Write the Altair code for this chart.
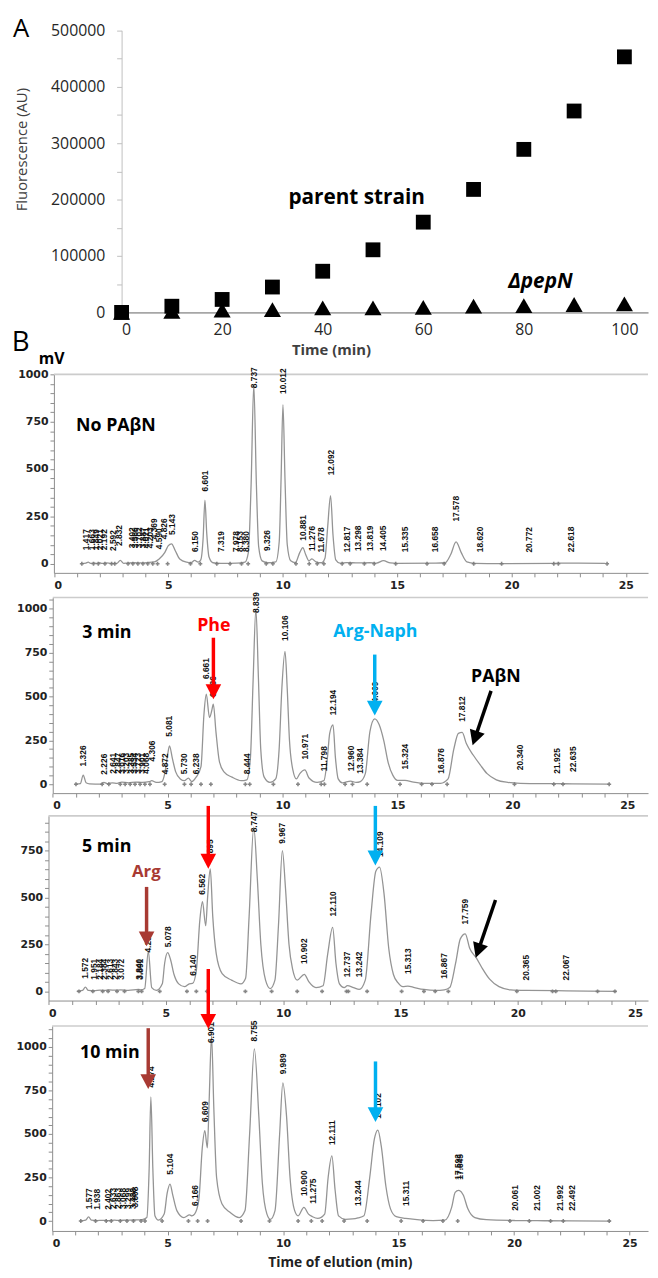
import altair as alt
import pandas as pd

# ------------------------------------------------------------------ data
# Panel A
a_time = [0, 10, 20, 30, 40, 50, 60, 70, 80, 90, 100]
a_parent = [0, 11000, 23000, 45000, 73000, 111000, 160000, 218000, 289000, 357000, 453000]
a_pepn = [0, 2000, 4000, 5000, 8000, 8000, 9000, 11000, 12000, 14000, 15000]
a_x_ticks = [0, 20, 40, 60, 80, 100]

# Panel B chromatogram traces (time min, mV)
b1_trace = [(1.2,0),(1.4,3),(1.5,8),(1.6,2),(1.75,4),(1.85,2),(2.0,5),(2.1,2),(2.3,4),(2.5,2),
            (2.75,2),(2.9,18),(3.05,2),(3.2,3),(3.5,5),(3.8,4),(4.1,6),(4.4,10),(4.6,25),(4.85,60),
            (5.0,95),(5.143,105),(5.3,70),(5.5,25),(5.8,8),(6.0,5),(6.15,18),(6.3,8),(6.42,20),(6.52,130),
            (6.601,335),(6.68,160),(6.78,35),(6.95,5),(7.3,2),(8.0,3),(8.35,8),(8.5,60),(8.62,420),(8.737,945),
            (8.85,420),(8.95,90),(9.1,15),(9.35,5),(9.7,10),(9.85,120),(9.93,450),(10.012,840),(10.1,450),(10.2,100),
            (10.35,15),(10.55,5),(10.75,60),(10.881,85),(11.0,50),(11.15,15),(11.276,25),(11.45,10),(11.7,5),(11.85,30),
            (11.97,200),(12.092,360),(12.2,150),(12.32,20),(12.5,3),(12.8,6),(13.3,4),(13.8,5),(14.1,3),(14.405,16),
            (14.7,4),(15.0,2),(16.7,3),(17.1,5),(17.35,50),(17.578,115),(17.8,60),(18.05,10),(18.4,2),(19.5,0),
            (21.9,2),(22.2,3),(24.1,2)]
b2_trace = [(1.0,0),(1.2,3),(1.326,52),(1.45,8),(1.6,2),(2.1,0),(2.226,10),(2.4,3),(2.6,8),(2.8,5),
            (3.0,12),(3.3,8),(3.6,12),(3.9,10),(4.2,14),(4.306,20),(4.5,10),(4.75,15),(4.872,60),(5.0,170),
            (5.081,218),(5.2,150),(5.35,70),(5.55,30),(5.73,20),(5.9,35),(6.05,15),(6.238,40),(6.45,100),(6.58,400),
            (6.68,513),(6.82,380),(6.92,420),(6.986,457),(7.1,300),(7.25,130),(7.45,70),(7.8,40),(8.2,20),(8.444,25),
            (8.6,150),(8.72,600),(8.839,1000),(8.95,600),(9.05,200),(9.2,40),(9.45,10),(9.7,30),(9.85,200),(9.97,550),
            (10.106,757),(10.2,550),(10.3,250),(10.45,80),(10.6,30),(10.75,60),(10.971,81),(11.15,35),(11.5,10),(11.798,20),
            (11.95,150),(12.05,290),(12.194,338),(12.3,150),(12.42,30),(12.6,8),(12.96,18),(13.2,10),(13.384,15),(13.6,60),
            (13.8,300),(14.009,372),(14.2,340),(14.4,250),(14.6,120),(14.8,50),(15.0,22),(15.324,22),(15.7,12),(16.2,5),
            (16.876,5),(17.2,30),(17.45,200),(17.65,290),(17.812,295),(18.0,230),(18.3,165),(18.6,110),(18.9,60),(19.3,25),
            (19.8,10),(20.34,5),(21.9,3),(22.6,2),(24.2,0)]
b3_trace = [(1.2,0),(1.45,5),(1.572,22),(1.7,5),(1.951,4),(2.2,6),(2.384,5),(2.6,8),(2.843,6),(3.072,8),
            (3.4,5),(3.84,10),(3.95,8),(4.1,15),(4.254,214),(4.4,20),(4.6,5),(4.85,40),(4.95,150),(5.078,206),
            (5.2,170),(5.35,90),(5.55,40),(5.8,25),(6.0,40),(6.14,42),(6.3,110),(6.45,380),(6.562,478),(6.7,350),
            (6.78,500),(6.895,653),(7.0,400),(7.15,200),(7.4,95),(7.8,60),(8.2,40),(8.4,70),(8.55,400),(8.747,876),
            (8.9,600),(9.05,250),(9.25,60),(9.45,15),(9.65,60),(9.8,350),(9.967,750),(10.1,550),(10.25,250),(10.4,120),
            (10.6,60),(10.902,91),(11.1,50),(11.4,20),(11.7,30),(11.9,200),(12.11,341),(12.25,150),(12.4,40),(12.6,20),
            (12.737,30),(13.0,20),(13.242,10),(13.5,60),(13.75,420),(13.95,640),(14.109,662),(14.3,520),(14.5,230),(14.7,90),
            (14.9,45),(15.1,25),(15.313,28),(15.6,20),(16.0,10),(16.5,5),(16.867,8),(17.1,20),(17.35,150),(17.55,280),
            (17.759,307),(17.95,230),(18.25,175),(18.5,120),(18.8,65),(19.2,25),(19.7,8),(20.365,5),(22.067,3),(24.2,0)]
b4_trace = [(1.2,0),(1.45,5),(1.577,24),(1.7,5),(1.938,3),(2.2,4),(2.402,3),(2.7,5),(2.9,4),(3.2,5),
            (3.6,6),(3.9,8),(4.1,20),(4.2,300),(4.274,713),(4.36,300),(4.45,30),(4.6,5),(4.85,40),(4.98,160),
            (5.104,212),(5.22,150),(5.4,60),(5.7,20),(5.95,35),(6.05,30),(6.166,40),(6.35,120),(6.5,420),(6.609,520),
            (6.72,420),(6.8,700),(6.901,1064),(7.0,650),(7.12,250),(7.35,100),(7.7,50),(8.1,20),(8.35,60),(8.55,500),
            (8.755,989),(8.95,600),(9.1,220),(9.3,40),(9.45,10),(9.65,60),(9.85,500),(9.989,794),(10.15,600),(10.3,250),
            (10.5,60),(10.65,30),(10.9,79),(11.1,40),(11.275,25),(11.5,15),(11.8,40),(11.95,250),(12.111,374),(12.25,180),
            (12.4,30),(12.7,10),(13.0,12),(13.244,18),(13.5,30),(13.75,250),(13.95,470),(14.102,523),(14.25,430),(14.45,200),
            (14.65,70),(14.9,25),(15.311,15),(15.8,8),(16.5,3),(17.0,5),(17.3,80),(17.45,165),(17.593,176),(17.645,175),
            (17.8,150),(18.0,70),(18.3,20),(18.8,8),(20.061,3),(21.002,2),(22.5,1),(24.2,0)]

# peak labels: (retention time text, mV where the label starts)
b1_labels = [("1.417",35),("1.663",35),("1.849",35),("2.021",35),("2.192",35),("2.592",30),("2.832",57),
             ("3.402",45),("3.566",45),("3.702",45),("3.887",45),("4.021",45),("4.203",45),("4.369",92),
             ("4.590",40),("4.826",92),("5.143",115),("6.150",25),("6.601",345),("7.319",25),("7.978",25),
             ("8.153",25),("8.380",25),("8.737",890),("9.326",30),("10.012",860),("10.881",85),("11.276",30),
             ("11.678",22),("12.092",430),("12.817",24),("13.298",30),("13.819",30),("14.405",30),("15.335",24),
             ("16.658",24),("17.578",186),("18.620",24),("20.772",22),("22.618",24)]
b2_labels = [("1.326",62),("2.226",15),("2.641",20),("2.847",20),("3.016",20),("3.203",20),("3.385",20),
             ("3.534",20),("3.723",20),("3.901",20),("4.068",20),("4.306",90),("4.872",17),("5.081",231),
             ("5.730",17),("6.238",17),("6.661",560),("6.986",457),("8.444",17),("8.839",936),("10.106",777),
             ("10.971",101),("11.798",34),("12.194",353),("12.960",34),("13.384",20),("14.009",400),("15.324",45),
             ("16.876",20),("17.812",316),("20.340",40),("21.925",20),("22.635",30)]
b3_labels = [("1.572",30),("1.951",25),("2.184",25),("2.384",25),("2.613",25),("2.843",25),("3.072",25),
             ("3.840",25),("3.891",25),("4.254",170),("5.078",198),("6.140",47),("6.562",478),("6.895",662),
             ("8.747",811),("9.967",750),("10.902",109),("12.110",363),("12.737",39),("13.242",39),("14.109",680),
             ("15.313",56),("16.867",30),("17.759",320),("20.365",21),("22.067",21)]
b4_labels = [("1.577",28),("1.938",25),("2.402",25),("2.633",30),("2.863",30),("3.068",30),("3.299",30),
             ("3.488",30),("3.608",38),("4.274",728),("5.104",227),("6.166",47),("6.609",529),("6.901",983),
             ("8.755",992),("9.989",803),("10.900",104),("11.275",60),("12.111",397),("13.244",47),("14.102",548),
             ("15.311",47),("17.593",198),("17.645",198),("20.061",19),("21.002",19),("21.992",19),("22.492",19)]

# integration markers on the baseline (min)
b1_marks = [1.22,1.73,1.94,2.23,2.52,2.66,3.24,3.45,3.67,3.89,4.10,4.32,4.53,4.97,5.97,6.40,7.12,7.70,8.2,8.49,
            9.28,9.57,10.58,11.16,11.51,11.8,12.6,12.95,13.57,14.0,14.94,16.31,17.06,18.35,19.57,21.85,22.05,24.18]
b2_marks = [1.01,2.15,2.44,2.94,3.15,3.37,3.58,3.8,4.01,4.23,4.87,5.73,6.02,6.45,6.88,8.38,8.57,9.6,10.67,11.68,
            11.82,12.72,13.04,13.68,15.11,16.05,16.5,17.16,20.09,21.8,22.2,24.21]
b3_marks = [1.30,1.89,2.31,2.54,2.92,3.24,3.83,3.97,4.74,5.9,6.3,6.75,8.39,9.51,10.6,11.66,12.7,12.78,13.58,15.05,
            16.0,16.48,17.04,19.96,21.48,21.62,23.40,24.14]
b4_marks = [1.24,1.88,2.34,2.56,2.95,3.24,3.52,3.85,4.02,4.76,5.9,6.3,6.73,8.18,9.41,10.65,11.22,11.69,12.64,13.64,
            15.11,16.06,16.92,17.56,19.82,20.66,21.58,22.13,24.12]

# ------------------------------------------------------------------ layout
W, H = 650, 1270          # drawing area (page margin 8 px)
M = 8
SANS = "Open Sans"
AXF = "DejaVu Sans"
HEAD = "M-1,-0.95L1,-0.95L0,0.95Z"
RED, BLUE, BROWN = "#ff0000", "#00b0f0", "#a83a33"


def text_layer(enc, t, v, txt, **kw):
    df = pd.DataFrame({"t": [t], "v": [v], "txt": [txt]})
    return alt.Chart(df).mark_text(**kw).encode(**enc(), text="txt:N")


# ---------------- Panel A
xsA = alt.Scale(domain=[0, 104.7], range=[123 - M, 656 - M], nice=False, zero=False)
ysA = alt.Scale(domain=[0, 500000], range=[308.3 - M, 22.7 - M], nice=False, zero=False)
axA_x = alt.Axis(orient="bottom", offset=(308.3 - M) - H, values=a_x_ticks, format="d", ticks=False,
                 grid=False, domainColor="#a6a6a6", domainWidth=1.6, labelFont=SANS, labelFontSize=16,
                 labelColor="#262626", labelPadding=9, title="Time (min)", titleFont=SANS, titleFontSize=15,
                 titleFontWeight="bold", titleColor="#404040", titleX=335 - M, titleY=38,
                 titleBaseline="middle")
axA_y = alt.Axis(orient="left", offset=-(123 - M), values=list(range(0, 500001, 50000)), format="d",
                 labelExpr="datum.value % 100000 === 0 ? datum.label : ''", grid=False,
                 domainColor="#bfbfbf", tickColor="#bfbfbf", tickSize=5, labelFont=SANS, labelFontSize=16,
                 labelColor="#262626", labelPadding=12, title="Fluorescence (AU)", titleFont=SANS,
                 titleFontSize=15, titleFontWeight="normal", titleColor="#404040", titleX=22 - 123,
                 titleY=143 - M, titleBaseline="middle", titleAngle=270)


def encA():
    return dict(x=alt.X("t:Q", scale=xsA, axis=axA_x), y=alt.Y("v:Q", scale=ysA, axis=axA_y))


dfA1 = pd.DataFrame({"t": a_time, "v": a_parent})
dfA2 = pd.DataFrame({"t": a_time, "v": a_pepn})
panelA = alt.layer(
    alt.Chart(dfA1).mark_point(shape="square", filled=True, size=225, color="#000000", opacity=1).encode(**encA()),
    alt.Chart(dfA2).mark_point(shape="triangle-up", filled=True, size=300, color="#000000", opacity=1).encode(**encA()),
    text_layer(encA, 46.75, 202000, "parent strain", font=SANS, fontSize=21, fontWeight="bold", color="#000"),
    text_layer(encA, 83.3, 53000, "ΔpepN", font=SANS, fontSize=21, fontWeight="bold", fontStyle="italic",
               color="#000"),
    text_layer(encA, -20.0, 503000, "A", font=SANS, fontSize=26, baseline="middle", color="#000"),
)


# ---------------- Panel B helper
def chrom(trace, labels, marks, geo, extras, xtitle=None):
    x0, xmax, ya, yt, ydom = geo
    xs = alt.Scale(domain=[0, xmax], range=[x0 - M, 656 - M], nice=False, zero=False)
    ys = alt.Scale(domain=list(ydom), range=[ya - M, yt - M], nice=False, zero=False)
    axkw = dict(grid=False, domainColor="#8c8c8c", tickColor="#8c8c8c", tickSize=4, labelFont=AXF,
                labelFontSize=11, labelFontWeight="bold", labelColor="#222222", format="d")
    if xtitle:
        ax = alt.Axis(orient="bottom", offset=(ya - M) - H, values=list(range(0, 26)),
                      labelExpr="datum.value % 5 === 0 ? datum.label : ''", labelPadding=3,
                      title=xtitle, titleFont=SANS, titleFontSize=14, titleFontWeight="bold",
                      titleColor="#222222", titleX=344 - M, titleY=32, titleBaseline="middle", **axkw)
    else:
        ax = alt.Axis(orient="bottom", offset=(ya - M) - H, values=list(range(0, 26)),
                      labelExpr="datum.value % 5 === 0 ? datum.label : ''", labelPadding=3, title="", **axkw)
    ay = alt.Axis(orient="left", offset=-(x0 - M), values=list(range(0, int(ydom[1]) + 1, 50)),
                  labelExpr="datum.value % 250 === 0 ? datum.label : ''", labelPadding=2, title="", **axkw)

    def enc(**extra):
        d = dict(x=alt.X("t:Q", scale=xs, axis=ax), y=alt.Y("v:Q", scale=ys, axis=ay))
        d.update(extra)
        return d

    tr = pd.DataFrame(trace, columns=["t", "v"])
    lb = pd.DataFrame({"t": [float(s) for s, _ in labels], "v": [h for _, h in labels],
                       "txt": [s for s, _ in labels]})
    mk = pd.DataFrame({"t": marks, "v": [0] * len(marks)})
    frame = pd.DataFrame({"t": [0], "t2": [xmax], "v": [ydom[1]]})
    layers = [
        alt.Chart(frame).mark_rule(color="#cccccc", strokeWidth=1.6).encode(**enc(x2="t2:Q")),
        alt.Chart(tr).mark_line(interpolate="monotone", color="#949494", strokeWidth=1.3).encode(**enc()),
        alt.Chart(mk).mark_point(shape="cross", filled=True, size=16, color="#7a7a7a", opacity=0.9).encode(**enc()),
        alt.Chart(lb).mark_text(angle=270, align="left", baseline="middle", dx=7, font="Liberation Sans",
                                fontSize=8.5, fontWeight="bold", color="#111111").encode(**enc(), text="txt:N"),
    ]
    for kind, spec in extras:
        if kind == "text":
            t, v, txt, kw = spec
            layers.append(text_layer(enc, t, v, txt, **kw))
        elif kind == "arrow":
            t0, v0, t1, v1, color, ang = spec
            sh = pd.DataFrame({"t": [t0], "v": [v0], "t2": [t1], "v2": [v1]})
            layers.append(alt.Chart(sh).mark_rule(color=color, strokeWidth=3.5).encode(
                **enc(x2="t2:Q", y2="v2:Q")))
            hd = pd.DataFrame({"t": [t1], "v": [v1]})
            layers.append(alt.Chart(hd).mark_point(shape=HEAD, filled=True, size=250, color=color, opacity=1,
                                                   angle=ang).encode(**enc()))
    return alt.layer(*layers)


bold = dict(font=SANS, fontWeight="bold", fontSize=18, align="left", baseline="middle", color="#000")
ctr = dict(font=SANS, fontWeight="bold", fontSize=18, align="center", baseline="middle")

panelB1 = chrom(b1_trace, b1_labels, b1_marks, (54.5, 25.97, 572, 371, (-48.5, 1000)), [
    ("text", (-1.45, 1167, "B", dict(font=SANS, fontSize=28, align="center", baseline="middle", color="#000"))),
    ("text", (-0.1, 1080, "mV", dict(font=SANS, fontSize=16, fontWeight="bold", align="center",
                                    baseline="middle", color="#000"))),
    ("text", (0.97, 729, "No PAβN", bold)),
])
panelB2 = chrom(b2_trace, b2_labels, b2_marks, (53.3, 25.9, 795, 597, (-51, 1064)), [
    ("text", (1.28, 863, "3 min", bold)),
    ("text", (7.01, 902, "Phe", dict(ctr, color=RED))),
    ("text", (14.04, 869, "Arg-Naph", dict(ctr, color=BLUE))),
    ("text", (19.28, 609, "PAβN", dict(ctr, color="#000"))),
    ("arrow", (6.99, 835, 6.99, 527, RED, 0)),
    ("arrow", (14.01, 739, 14.01, 434, BLUE, 0)),
    ("arrow", (19.07, 532, 18.37, 262, "#000000", 18.5)),
])
panelB3 = chrom(b3_trace, b3_labels, b3_marks, (49, 25.55, 1005, 818, (-49, 936)), [
    ("text", (1.43, 767, "5 min", bold)),
    ("text", (4.17, 636, "Arg", dict(ctr, fontSize=17, color=BROWN))),
    ("arrow", (6.81, 989, 6.81, 694, RED, 0)),
    ("arrow", (4.18, 557, 4.18, 280, BROWN, 0)),
    ("arrow", (13.93, 989, 13.93, 711, BLUE, 0)),
    ("arrow", (19.05, 487, 18.31, 216, "#000000", 18.9)),
])
panelB4 = chrom(b4_trace, b4_labels, b4_marks, (52.7, 25.8, 1238.3, 1030.7, (-57, 1121)), [
    ("text", (1.21, 966, "10 min", bold)),
    ("arrow", (6.76, 1448, 6.76, 1147, RED, 0)),
    ("arrow", (4.16, 1108, 4.16, 801, BROWN, 0)),
    ("arrow", (14.0, 917, 14.0, 611, BLUE, 0)),
], xtitle="Time of elution (min)")

chart = alt.layer(panelA, panelB1, panelB2, panelB3, panelB4).resolve_scale(
    x="independent", y="independent").resolve_axis(x="independent", y="independent").properties(
    width=W, height=H, autosize=alt.AutoSizeParams(type="none"), padding=0,
    background="#ffffff").configure_view(stroke=None)

chart.save("out.html", embed_options={"renderer": "svg", "actions": False})
